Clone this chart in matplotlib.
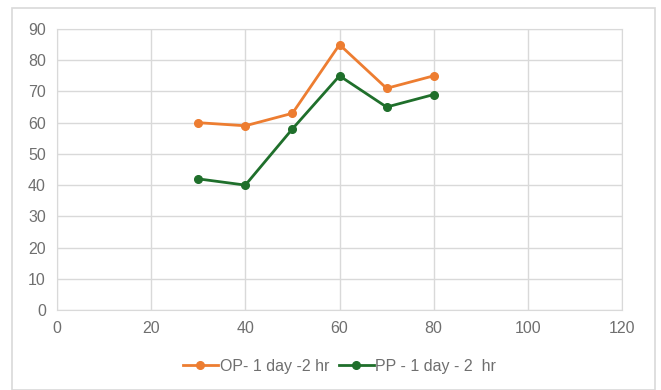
import matplotlib
matplotlib.use('Agg')
import matplotlib.pyplot as plt
from matplotlib.patches import Rectangle

x = [30, 40, 50, 60, 70, 80]
op = [60, 59, 63, 85, 71, 75]
pp = [42, 40, 58, 75, 65, 69]
labels = ['OP- 1 day -2 hr', 'PP - 1 day - 2  hr']

plt.rcParams['font.family'] = ['Liberation Sans', 'DejaVu Sans']

fig = plt.figure(figsize=(6.61, 3.9), dpi=100)
# outer chart border
fig.patches.append(Rectangle((12 / 661, 0), 643 / 661, 382 / 390,
                             transform=fig.transFigure, fill=False,
                             edgecolor='#d9d9d9', lw=1.2))
ax = fig.add_axes([57 / 661, 1 - 310 / 390, 565 / 661, 281 / 390])

ax.plot(x, op, color='#ED7D31', lw=2, marker='o', ms=5.5, label=labels[0])
ax.plot(x, pp, color='#1F6F2B', lw=2, marker='o', ms=5.5, label=labels[1])

ax.set_xlim(0, 120)
ax.set_ylim(0, 90)
ax.set_xticks(range(0, 121, 20))
ax.set_yticks(range(0, 91, 10))
ax.grid(color='#d9d9d9', lw=1)
ax.set_axisbelow(True)
for s in ax.spines.values():
    s.set_color('#d9d9d9')
ax.tick_params(length=0, labelsize=11.5, colors='#6f6f6f', pad=8)

ax.legend(loc='center', bbox_to_anchor=(0.5, -0.2), ncol=2, frameon=False,
          fontsize=11.5, labelcolor='#6f6f6f', handlelength=2.2,
          handletextpad=0.1, columnspacing=0.6)

fig.savefig('out.png', dpi=100)
